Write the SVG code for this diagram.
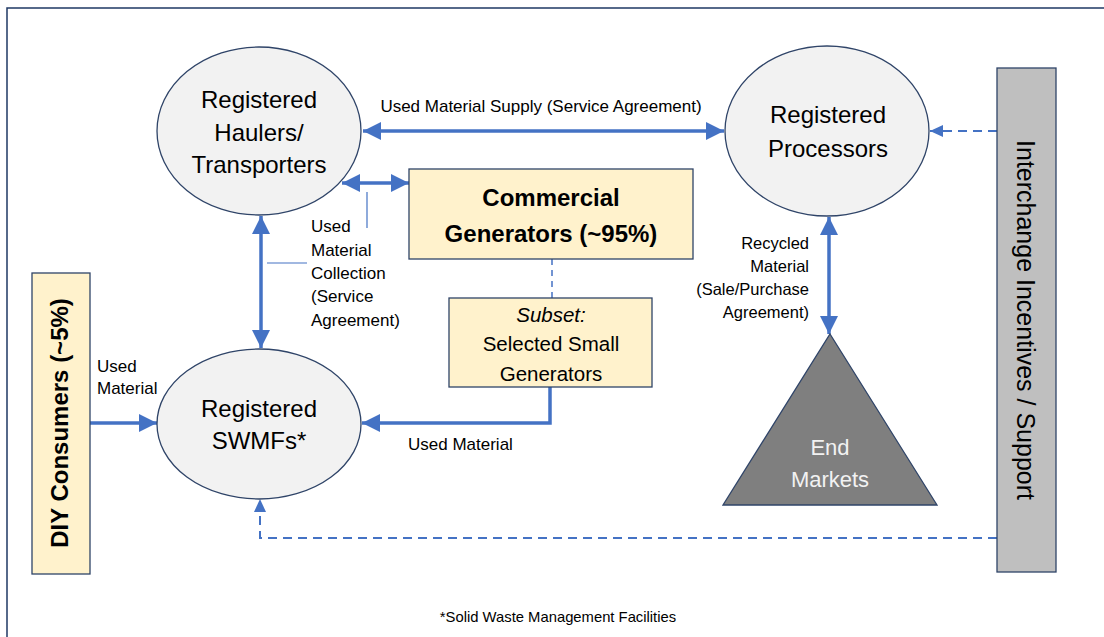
<svg xmlns="http://www.w3.org/2000/svg" width="1104" height="637" viewBox="0 0 1104 637">
<style>
text{font-family:"Liberation Sans",Arial,sans-serif;fill:#000}
.big{font-size:24px;text-anchor:middle}
.lbl{font-size:17px}
.ell{fill:#f2f2f2;stroke:#2f4468;stroke-width:1.3}
.box{fill:#fff2cc;stroke:#2f4468;stroke-width:1.3}
.solid{fill:none;stroke:#4472c4;stroke-width:3.5}
.dash{fill:none;stroke:#4472c4;stroke-width:2;stroke-dasharray:9 6}
.thin{fill:none;stroke:#4472c4;stroke-width:1.2}
</style>
<defs>
<marker id="ah" markerUnits="userSpaceOnUse" markerWidth="18" markerHeight="18" refX="18" refY="9" orient="auto-start-reverse" viewBox="0 0 18 18"><path d="M0,0 L18,9 L0,18 z" fill="#4472c4"/></marker>
<marker id="ahs" markerUnits="userSpaceOnUse" markerWidth="13" markerHeight="12" refX="13" refY="6" orient="auto-start-reverse" viewBox="0 0 13 12"><path d="M0,0 L13,6 L0,12 z" fill="#4472c4"/></marker>
</defs>
<rect width="1104" height="637" fill="#fff"/>
<path d="M7,637 V8 H1104" fill="none" stroke="#1f3864" stroke-width="1.5"/>

<g id="connectors">
<line class="solid" x1="363" y1="131" x2="724" y2="131" marker-start="url(#ah)" marker-end="url(#ah)"/>
<line class="solid" x1="342" y1="183" x2="409" y2="183" marker-start="url(#ah)" marker-end="url(#ah)"/>
<line class="solid" x1="261" y1="216" x2="261" y2="348" marker-start="url(#ah)" marker-end="url(#ah)"/>
<line class="solid" x1="829" y1="217" x2="829" y2="334" marker-start="url(#ah)" marker-end="url(#ah)"/>
<line class="solid" x1="90" y1="423" x2="157" y2="423" marker-end="url(#ah)"/>
<path class="solid" d="M550,387 V423 H362" marker-end="url(#ah)"/>
<line class="dash" x1="552" y1="259" x2="552" y2="298" style="stroke-width:1.5;stroke-dasharray:6 5"/>
<path class="dash" d="M997,131 H930" marker-end="url(#ahs)"/>
<path class="dash" d="M997,538 H260 V499" marker-end="url(#ahs)"/>
<path class="thin" d="M367,192 V228"/>
<path class="thin" d="M267,263 H307"/>
<text class="lbl" x="541" y="112" text-anchor="middle">Used Material Supply (Service Agreement)</text>
<text class="lbl" x="311"><tspan x="311" y="232">Used</tspan><tspan x="311" y="256">Material</tspan><tspan x="311" y="279">Collection</tspan><tspan x="311" y="302">(Service</tspan><tspan x="311" y="326">Agreement)</tspan></text>
<text class="lbl" text-anchor="end" style="font-size:16.5px"><tspan x="809" y="249">Recycled</tspan><tspan x="809" y="272">Material</tspan><tspan x="809" y="295">(Sale/Purchase</tspan><tspan x="809" y="318">Agreement)</tspan></text>
<text class="lbl"><tspan x="97" y="372">Used</tspan><tspan x="97" y="394">Material</tspan></text>
<text class="lbl" x="408" y="450">Used Material</text>
</g>

<g id="haulers">
<ellipse class="ell" cx="259" cy="131" rx="102" ry="84"/>
<text class="big"><tspan x="259" y="108">Registered</tspan><tspan x="259" y="141">Haulers/</tspan><tspan x="259" y="173">Transporters</tspan></text>
</g>

<g id="processors">
<ellipse class="ell" cx="827" cy="131" rx="102" ry="85"/>
<text class="big"><tspan x="828" y="123">Registered</tspan><tspan x="828" y="157">Processors</tspan></text>
</g>

<g id="swmfs">
<ellipse class="ell" cx="259" cy="424" rx="102" ry="75"/>
<text class="big"><tspan x="259" y="417">Registered</tspan><tspan x="259" y="449">SWMFs*</tspan></text>
</g>

<g id="commercial">
<rect class="box" x="409" y="169" width="284" height="90"/>
<text class="big" style="font-weight:bold"><tspan x="551" y="206">Commercial</tspan><tspan x="551" y="242">Generators (~95%)</tspan></text>
</g>

<g id="subset">
<rect class="box" x="449" y="298" width="203" height="89"/>
<text style="font-size:20.5px;text-anchor:middle"><tspan x="551" y="322" font-style="italic">Subset:</tspan><tspan x="551" y="351">Selected Small</tspan><tspan x="551" y="381">Generators</tspan></text>
</g>

<g id="diy">
<rect class="box" x="32" y="273" width="58" height="301"/>
<text transform="translate(68,423) rotate(-90)" style="font-size:24px;font-weight:bold;text-anchor:middle" x="0" y="0">DIY Consumers (~5%)</text>
</g>

<g id="interchange">
<rect x="997" y="68" width="59" height="504" fill="#bfbfbf" stroke="#2f4468" stroke-width="1.3"/>
<text transform="translate(1017,320) rotate(90)" style="font-size:25px;text-anchor:middle" x="0" y="0">Interchange Incentives / Support</text>
</g>

<g id="endmarkets">
<polygon points="830,334 937,505 723,505" fill="#7f7f7f" stroke="#2f4468" stroke-width="1.3"/>
<text style="font-size:22px;text-anchor:middle;fill:#f2f2f2"><tspan x="830" y="455">End</tspan><tspan x="830" y="487">Markets</tspan></text>
</g>

<text x="558" y="622" style="font-size:14.8px;text-anchor:middle">*Solid Waste Management Facilities</text>
</svg>
